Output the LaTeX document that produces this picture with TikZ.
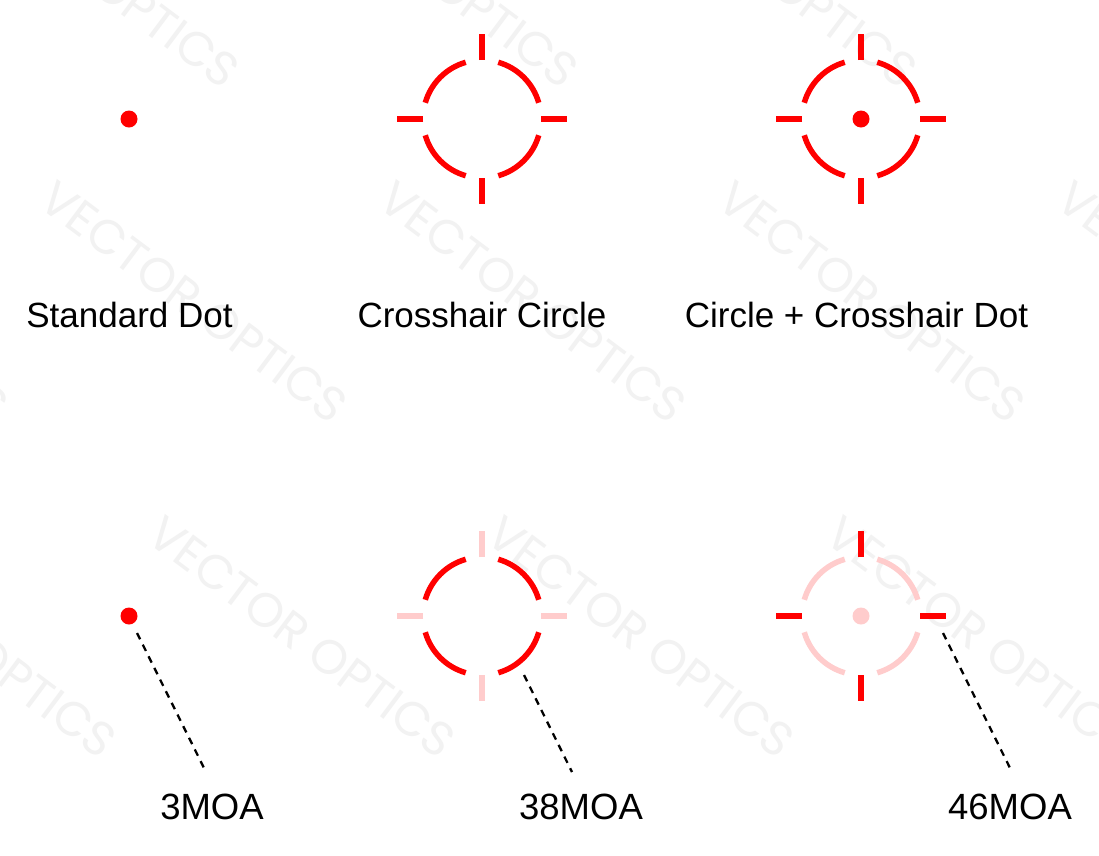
\documentclass[tikz,border=0pt]{standalone}
\usepackage{fontspec}
\setmainfont{Liberation Sans}
\newfontfamily\wmfont{Poppins}
\definecolor{retred}{HTML}{FF0000}
\definecolor{retpink}{HTML}{FFCCCC}
\definecolor{wmgray}{HTML}{F2F2F2}
\tikzset{
  pics/reticle/.style 2 args={code={
    \draw[line width=5.5pt, draw=#1, line cap=butt]
      (16:59) arc (16:74:59)
      (106:59) arc (106:164:59)
      (196:59) arc (196:254:59)
      (286:59) arc (286:344:59);
    \draw[line width=6pt, draw=#2, line cap=butt]
      (59,0) -- (85,0) (-59,0) -- (-85,0)
      (0,59) -- (0,85) (0,-59) -- (0,-85);
  }},
  reddot/.style={circle, fill=#1, draw=none, inner sep=0pt, minimum size=17pt},
  toplabel/.style={anchor=base, font=\fontsize{35}{40}\selectfont, inner sep=0pt},
  moalabel/.style={anchor=base, font=\fontsize{36.5}{42}\selectfont, inner sep=0pt},
  leader/.style={draw=black, line width=2.3pt, dash pattern=on 7pt off 6pt},
  watermark/.style={rotate=-36.8, text=wmgray, font=\wmfont\fontsize{48}{50}\selectfont, inner sep=0pt}
}
\begin{document}
\begin{tikzpicture}[x=1pt,y=-1pt]
\useasboundingbox (0,0) rectangle (1099,855);
\fill[white] (0,0) rectangle (1099,855);
% watermark tiles (only those that show in the frame)
\node[watermark] (wt0) at (86,-33) {VECTOR OPTICS};
\node[watermark] (wt1) at (425,-33) {VECTOR OPTICS};
\node[watermark] (wt2) at (764,-33) {VECTOR OPTICS};
\node[watermark] (wm0) at (-145,302) {VECTOR OPTICS};
\node[watermark] (wm1) at (194,302) {VECTOR OPTICS};
\node[watermark] (wm2) at (533,302) {VECTOR OPTICS};
\node[watermark] (wm3) at (872,302) {VECTOR OPTICS};
\node[watermark] (wm4) at (1211,302) {VECTOR OPTICS};
\node[watermark] (wb0) at (-37,637) {VECTOR OPTICS};
\node[watermark] (wb1) at (302,637) {VECTOR OPTICS};
\node[watermark] (wb2) at (641,637) {VECTOR OPTICS};
\node[watermark] (wb3) at (980,637) {VECTOR OPTICS};
% top row
\node[reddot=retred] (dotA) at (129,119) {};
\coordinate (retA) at (482,119);
\pic at (retA) {reticle={retred}{retred}};
\coordinate (retB) at (861,119);
\pic at (retB) {reticle={retred}{retred}};
\node[reddot=retred] (dotB) at (retB) {};
\node[toplabel] (labA) at (129.5,327) {Standard Dot};
\node[toplabel] (labB) at (482,327) {Crosshair Circle};
\node[toplabel] (labC) at (856.5,327) {Circle + Crosshair Dot};
% bottom row
\node[reddot=retred] (dotC) at (129,616) {};
\coordinate (retC) at (482,616);
\pic at (retC) {reticle={retred}{retpink}};
\coordinate (retD) at (861,616);
\pic at (retD) {reticle={retpink}{retred}};
\node[reddot=retpink] (dotD) at (retD) {};
\node[moalabel] (moaA) at (212,819) {3MOA};
\node[moalabel] (moaB) at (581,819) {38MOA};
\node[moalabel] (moaC) at (1010,819) {46MOA};
% leader lines
\coordinate (l1s) at (137,633);
\coordinate (l1e) at (206,772);
\coordinate (l2s) at (524,675);
\coordinate (l2e) at (572,772);
\coordinate (l3s) at (943,633);
\coordinate (l3e) at (1012,772);
\draw[leader] (l1s) -- (l1e);
\draw[leader] (l2s) -- (l2e);
\draw[leader] (l3s) -- (l3e);
\end{tikzpicture}
\end{document}
